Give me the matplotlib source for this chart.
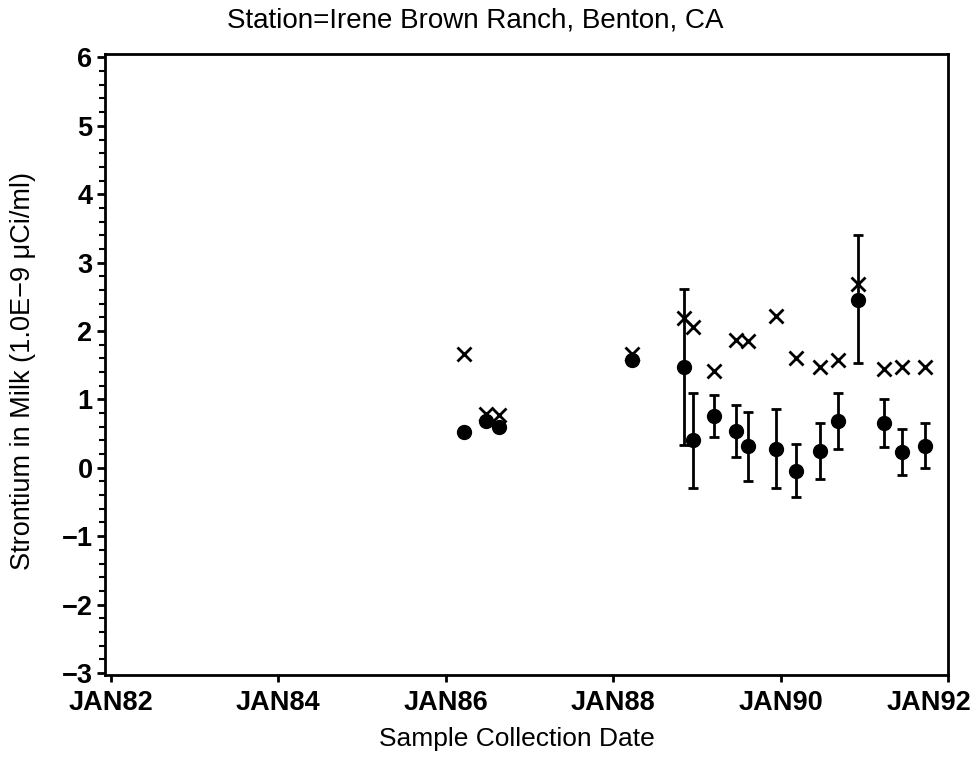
import numpy as np
import matplotlib
matplotlib.use("Agg")
import matplotlib.pyplot as plt
from matplotlib.ticker import MultipleLocator, FuncFormatter
from matplotlib.transforms import ScaledTranslation

# sample dates as decimal years
dates = [1986.22, 1986.48, 1986.64, 1988.23, 1988.85, 1988.95, 1989.20,
         1989.47, 1989.61, 1989.94, 1990.18, 1990.47, 1990.69, 1990.93,
         1991.24, 1991.45, 1991.73]
# measured strontium (dots)
measured = [0.53, 0.68, 0.59, 1.58, 1.48, 0.41, 0.75,
            0.54, 0.32, 0.28, -0.04, 0.24, 0.69, 2.46,
            0.65, 0.23, 0.32]
err_low = [np.nan, np.nan, np.nan, np.nan, 0.34, -0.29, 0.45,
           0.16, -0.19, -0.29, -0.43, -0.16, 0.28, 1.53,
           0.31, -0.11, 0.00]
err_high = [np.nan, np.nan, np.nan, np.nan, 2.62, 1.09, 1.07,
            0.92, 0.82, 0.86, 0.35, 0.65, 1.09, 3.41,
            1.01, 0.56, 0.65]
# second series (x markers)
xvals = [1.66, 0.78, 0.77, 1.67, 2.19, 2.06, 1.41,
         1.87, 1.85, 2.22, 1.61, 1.48, 1.58, 2.69,
         1.44, 1.47, 1.48]

tick_years = [1982, 1984, 1986, 1988, 1990, 1992]
tick_labels = ["JAN82", "JAN84", "JAN86", "JAN88", "JAN90", "JAN92"]

plt.rcParams['font.family'] = ['Liberation Sans', 'DejaVu Sans']

fig = plt.figure(figsize=(9.76, 7.61), dpi=100)
ax = fig.add_axes([0.1076, 0.113, 0.8637, 0.816])

m = np.array(measured)
lo = m - np.array(err_low)
hi = np.array(err_high) - m
ax.errorbar(dates, measured, yerr=[lo, hi], fmt='none', ecolor='black',
            elinewidth=2, capsize=3.5, capthick=2)
ax.plot(dates, measured, 'o', color='black', markersize=10, zorder=3)
ax.plot(dates, xvals, 'x', color='black', markersize=10, markeredgewidth=2,
        zorder=3)

ax.set_xlim(1981.93, 1992.0)
ax.set_ylim(-3.03, 6.05)
ax.set_xticks(tick_years)
ax.set_xticklabels(tick_labels)
ax.yaxis.set_major_locator(MultipleLocator(1))
ax.yaxis.set_minor_locator(MultipleLocator(0.2))
ax.yaxis.set_major_formatter(FuncFormatter(
    lambda v, p: '%d' % v if v >= 0 else '\u2212%d' % -v))

for s in ax.spines.values():
    s.set_linewidth(2)
ax.tick_params(axis='x', which='major', direction='out', width=2,
               length=5, labelsize=19.5, pad=6)
ax.tick_params(axis='y', which='major', direction='out', width=2,
               length=6, labelsize=19.5, pad=3)
ax.tick_params(axis='y', which='minor', direction='out', width=1.5, length=4)
for lab in ax.get_xticklabels() + ax.get_yticklabels():
    lab.set_fontweight('bold')

# last date label sits left of its tick so it stays inside the page
last = ax.xaxis.get_major_ticks()[-1].label1
last.set_transform(last.get_transform() +
                   ScaledTranslation(-0.19, 0, fig.dpi_scale_trans))

ax.set_xlabel("Sample Collection Date", fontsize=19)
ax.xaxis.set_label_coords(0.489, -0.084)
ax.set_ylabel("Strontium in Milk (1.0E\u22129 \u03bcCi/ml)", fontsize=19.5)
ax.yaxis.set_label_coords(-0.082, 0.49)
fig.text(0.487, 0.973, "Station=Irene Brown Ranch, Benton, CA",
         fontsize=20, ha='center', va='center')

fig.savefig("out.png", dpi=100)
